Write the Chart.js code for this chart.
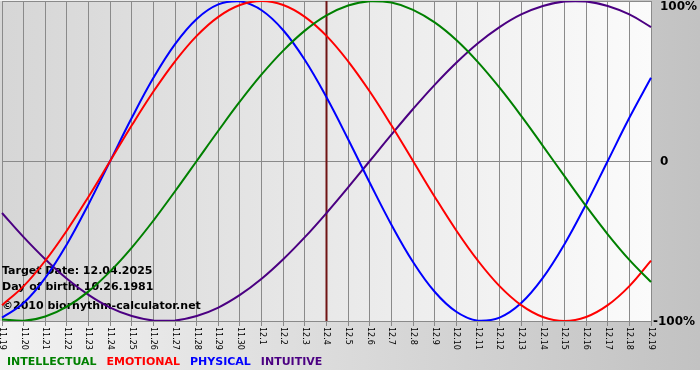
<!DOCTYPE html>
<html>
<head>
<meta charset="utf-8">
<script src="https://cdn.jsdelivr.net/npm/chart.js@4.4.1/dist/chart.umd.min.js"></script>
<style>
  html, body { margin: 0; padding: 0; background: #fff; }
  #wrap { width: 700px; height: 380px; }
</style>
</head>
<body>
<div id="wrap"><canvas id="bioChart" width="700" height="380"></canvas></div>
<script>
// days shown on the x axis
const days = ["11.19", "11.20", "11.21", "11.22", "11.23", "11.24", "11.25", "11.26", "11.27", "11.28",
  "11.29", "11.30", "12.1", "12.2", "12.3", "12.4", "12.5", "12.6", "12.7", "12.8", "12.9", "12.10",
  "12.11", "12.12", "12.13", "12.14", "12.15", "12.16", "12.17", "12.18", "12.19"];

// values in percent, one per day
const intellectual = [-99.0, -99.9, -97.2, -91.0, -81.5, -69.0, -54.1, -37.2, -18.9, 0, 18.9, 37.2, 54.1,
  69.0, 81.5, 91.0, 97.2, 99.9, 99.0, 94.5, 86.6, 75.6, 61.8, 45.8, 28.2, 9.5, -9.5, -28.2, -45.8, -61.8, -75.6];
const emotional = [-90.1, -78.2, -62.3, -43.4, -22.3, 0, 22.3, 43.4, 62.3, 78.2, 90.1, 97.5, 100, 97.5,
  90.1, 78.2, 62.3, 43.4, 22.3, 0, -22.3, -43.4, -62.3, -78.2, -90.1, -97.5, -100, -97.5, -90.1, -78.2, -62.3];
const physical = [-97.9, -88.8, -73.1, -52.0, -27.0, 0, 27.0, 52.0, 73.1, 88.8, 97.9, 99.8, 94.2, 81.7,
  63.1, 39.8, 13.6, -13.6, -39.8, -63.1, -81.7, -94.2, -99.8, -97.9, -88.8, -73.1, -52.0, -27.0, 0, 27.0, 52.0];
const intuitive = [-32.5, -47.6, -61.4, -73.6, -83.7, -91.6, -96.9, -99.7, -99.7, -96.9, -91.6, -83.7,
  -73.6, -61.4, -47.6, -32.5, -16.5, 0, 16.5, 32.5, 47.6, 61.4, 73.6, 83.7, 91.6, 96.9, 99.7, 99.7, 96.9, 91.6, 83.7];

const yTicks = [100, 0, -100];
const targetDay = "12.4";
const infoLines = ["Target Date: 12.04.2025", "Day of birth: 10.26.1981", "\u00a92010 biorhythm-calculator.net"];

const bgPlugin = {
  id: "bgPlugin",
  beforeDraw(chart) {
    const { ctx, chartArea: a, width, height } = chart;
    ctx.save();
    ctx.fillStyle = "#fff";
    ctx.fillRect(0, 0, width, height);
    const outer = ctx.createLinearGradient(0, 0, width, 0);
    outer.addColorStop(0, "#f2f2f2");
    outer.addColorStop(1, "#c2c2c2");
    ctx.fillStyle = outer;
    ctx.fillRect(0, 0, width, 370);
    const inner = ctx.createLinearGradient(a.left, 0, a.right, 0);
    inner.addColorStop(0, "#d6d6d6");
    inner.addColorStop(1, "#fbfbfb");
    ctx.fillStyle = inner;
    ctx.fillRect(a.left - 2, a.top, a.right - a.left + 2, a.bottom - a.top);
    ctx.restore();
  },
  beforeDatasetsDraw(chart) {
    const { ctx, chartArea: a, scales } = chart;
    ctx.save();
    // marker for the target date
    const mx = scales.x.getPixelForValue(days.indexOf(targetDay));
    ctx.strokeStyle = "#701414";
    ctx.lineWidth = 2;
    ctx.beginPath();
    ctx.moveTo(mx, a.top);
    ctx.lineTo(mx, a.bottom);
    ctx.stroke();

    ctx.fillStyle = "#000";
    ctx.font = "bold 11px 'DejaVu Sans'";
    ctx.textBaseline = "middle";
    ctx.fillText(infoLines[0], 2, 271);
    ctx.fillText(infoLines[1], 2, 287);
    ctx.fillText(infoLines[2], 2, 306);
    ctx.restore();
  },
  afterDraw(chart) {
    const { ctx, chartArea: a, scales } = chart;
    ctx.save();
    // rotated day labels
    ctx.fillStyle = "#000";
    ctx.font = "8px 'DejaVu Sans'";
    ctx.textAlign = "left";
    ctx.textBaseline = "middle";
    days.forEach((d, i) => {
      const x = scales.x.getPixelForValue(i);
      ctx.save();
      ctx.translate(x, a.bottom + 6);
      ctx.rotate(Math.PI / 2);
      ctx.fillText(d, 0, 0);
      ctx.restore();
    });

    // percent labels on the right
    ctx.font = "bold 12px 'DejaVu Sans'";
    yTicks.forEach((v) => {
      const y = scales.y.getPixelForValue(v);
      const txt = v === 0 ? "0" : v + "%";
      const x = v < 0 ? 653 : 660;
      ctx.fillText(txt, x, v === 100 ? y + 6 : y + 1);
    });

    // colored legend row
    ctx.font = "bold 11px 'DejaVu Sans'";
    let lx = 7;
    chart.data.datasets.forEach((ds) => {
      ctx.fillStyle = ds.borderColor;
      ctx.fillText(ds.label, lx, 362);
      lx += ctx.measureText(ds.label).width + 10;
    });
    ctx.restore();
  }
};

new Chart(document.getElementById("bioChart"), {
  type: "line",
  data: {
    labels: days,
    datasets: [
      { label: "INTELLECTUAL", data: intellectual, borderColor: "#008000" },
      { label: "EMOTIONAL", data: emotional, borderColor: "#ff0000" },
      { label: "PHYSICAL", data: physical, borderColor: "#0000ff" },
      { label: "INTUITIVE", data: intuitive, borderColor: "#4b0082" }
    ]
  },
  options: {
    responsive: false,
    animation: false,
    devicePixelRatio: 1,
    layout: { padding: { left: 2, right: 49, top: 1, bottom: 54 } },
    elements: {
      point: { radius: 0 },
      line: { borderWidth: 2, tension: 0.4, fill: false }
    },
    plugins: {
      legend: { display: false },
      tooltip: { enabled: false }
    },
    scales: {
      x: {
        offset: false,
        grid: { color: "#8a8a8a", lineWidth: 1, drawTicks: true, tickLength: 5, tickColor: "#8a8a8a" },
        border: { display: false },
        ticks: { display: false, autoSkip: false }
      },
      y: {
        position: "right",
        min: -100,
        max: 100,
        grid: { color: "#8a8a8a", lineWidth: 1, drawTicks: false },
        border: { display: true, color: "#8a8a8a" },
        ticks: { display: false, stepSize: 100 }
      }
    }
  },
  plugins: [bgPlugin]
});
</script>
</body>
</html>
